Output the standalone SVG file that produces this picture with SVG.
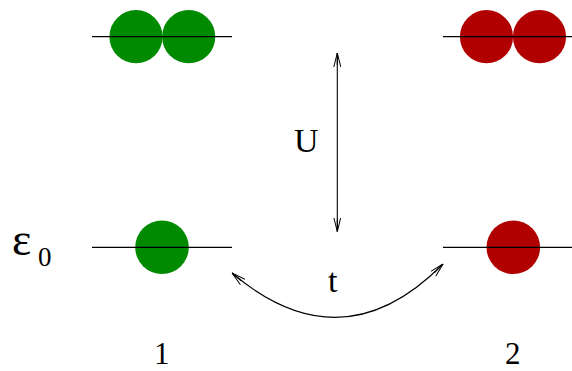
<svg xmlns="http://www.w3.org/2000/svg" width="572" height="371" viewBox="0 0 572 371">
<style>
.lvl{stroke:#000;stroke-width:1.3;fill:none}
.g{fill:#008a00}
.r{fill:#b00000}
.conn{stroke:#000;stroke-width:1.1;fill:none}
.lbl{font-family:"Liberation Serif","DejaVu Serif","Times New Roman",serif;fill:#000}
</style>
<defs>
<marker id="ah" viewBox="0 0 14 8" refX="14" refY="4" markerWidth="14" markerHeight="8" markerUnits="userSpaceOnUse" orient="auto-start-reverse">
<polyline points="0,0.5 14,4 0,7.5" fill="none" stroke="#000" stroke-width="1"/>
<line x1="2" y1="4" x2="14" y2="4" stroke="#000" stroke-width="1"/>
</marker>
</defs>
<g id="site1-upper">
<circle class="g" cx="136" cy="36.7" r="26.6"/>
<circle class="g" cx="188.7" cy="36.7" r="26.6"/>
<line class="lvl" x1="92" y1="36.7" x2="232" y2="36.7"/>
</g>
<g id="site2-upper">
<circle class="r" cx="486.5" cy="36.7" r="26.6"/>
<circle class="r" cx="539.5" cy="36.7" r="26.6"/>
<line class="lvl" x1="443" y1="36.7" x2="572" y2="36.7"/>
</g>
<g id="site1-lower">
<circle class="g" cx="162" cy="247.3" r="26.8"/>
<line class="lvl" x1="92" y1="247.3" x2="232" y2="247.3"/>
</g>
<g id="site2-lower">
<circle class="r" cx="513.3" cy="247.3" r="26.8"/>
<line class="lvl" x1="443" y1="247.3" x2="572" y2="247.3"/>
</g>
<g id="connectors">
<line class="conn" x1="337.3" y1="53" x2="337.3" y2="231.5" marker-start="url(#ah)" marker-end="url(#ah)"/>
<path class="conn" d="M232,273 Q342,366 443,264" marker-start="url(#ah)" marker-end="url(#ah)"/>
</g>
<g id="labels">
<text class="lbl" x="12" y="255" font-size="46">ε</text>
<text class="lbl" x="38" y="266" font-size="27">0</text>
<text class="lbl" x="294" y="152" font-size="34">U</text>
<text class="lbl" x="328" y="292" font-size="34">t</text>
<text class="lbl" x="154" y="364" font-size="31">1</text>
<text class="lbl" x="505" y="364" font-size="31">2</text>
</g>
</svg>
